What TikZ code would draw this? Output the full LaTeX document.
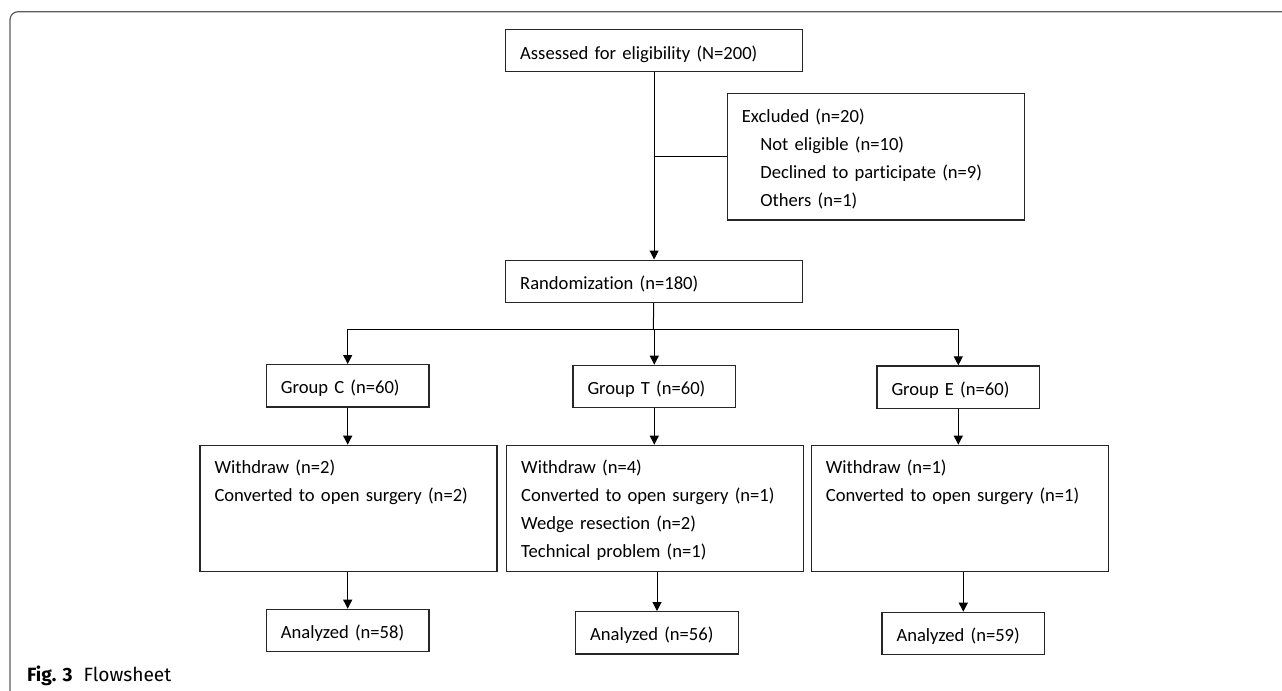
\documentclass[tikz,border=0pt]{standalone}
\usepackage{fontspec}
\newfontfamily\boxfont[Ligatures=NoCommon, WordSpace=0.85]{Carlito}
\newfontfamily\capfont{Fira Sans}
\usetikzlibrary{arrows.meta}
\definecolor{framegray}{HTML}{5C5C5C}
\tikzset{
    box/.style={draw=black!85, line width=0.7pt, anchor=north west, inner xsep=7.25pt, inner ysep=0pt,
        align=left, font=\boxfont\fontsize{9.3}{14}\selectfont, text height=14.5pt, text depth=6.6pt},
    wide/.style={box, text width=133.9pt},
    narrow/.style={box, text width=66.8pt},
    listbox/.style={wide, text height=14pt, text depth=49pt},
    link/.style={line width=0.5pt},
    flow/.style={link, -{Triangle[length=4.5pt,width=4.5pt]}},
}
\begin{document}
\begin{tikzpicture}[x=0.5pt, y=-0.5pt]
    \useasboundingbox (0,0) rectangle (1282,691);
    \draw[framegray, line width=0.6pt, rounded corners=4pt] (1282,11.7) -- (10,11.7) -- (10,691);
    \def\indent{\hspace*{9.25pt}}

    \node[wide, text height=15pt, text depth=5.85pt] (assess) at (505,29) {Assessed for eligibility (N=200)};
    \node[box, text width=134.15pt, text height=14.35pt, text depth=48.8pt] (excl) at (726.7,93)
        {Excluded (n=20)\\\indent Not eligible (n=10)\\\indent Declined to participate (n=9)\\\indent Others (n=1)};
    \node[wide] (rand) at (505,259.5) {Randomization (n=180)};
    \coordinate (br) at (653.3,329);

    % the three arms
    \node[narrow] (gC) at (265.7,364) {Group C (n=60)};
    \node[narrow] (gT) at (572.3,364.7) {Group T (n=60)};
    \node[narrow] (gE) at (876.3,365.3) {Group E (n=60)};

    \node[listbox] (wC) at (199.3,444.7) {Withdraw (n=2)\\Converted to open surgery (n=2)};
    \node[listbox] (wT) at (506,444.7) {Withdraw (n=4)\\Converted to open surgery (n=1)\\Wedge resection (n=2)\\Technical problem (n=1)};
    \node[listbox] (wE) at (810.7,444.7) {Withdraw (n=1)\\Converted to open surgery (n=1)};

    \node[narrow] (aC) at (265.7,608.7) {Analyzed (n=58)};
    \node[narrow] (aT) at (575,611) {Analyzed (n=56)};
    \node[narrow] (aE) at (881.3,611.7) {Analyzed (n=59)};

    \draw[flow] (assess) -- (rand);
    \draw[link] (assess.south |- excl.west) -- (excl.west);
    \draw[link] (rand) -- (br);
    \draw[link] (gC.north |- br) -- (gE.north |- br);
    \foreach \g/\w/\a in {gC/wC/aC, gT/wT/aT, gE/wE/aE} {
        \draw[flow] (\g.north |- br) -- (\g.north);
        \draw[flow] (\g) -- (\g.south |- \w.north);
        \draw[flow] (\a.north |- \w.south) -- (\a);
    }

    \node[anchor=base west, inner sep=0pt, font=\capfont\fontsize{9.6}{11}\selectfont] (cap) at (26.7,681.7)
        {\textbf{Fig. 3}\hspace{5.5pt}Flowsheet};
\end{tikzpicture}
\end{document}
